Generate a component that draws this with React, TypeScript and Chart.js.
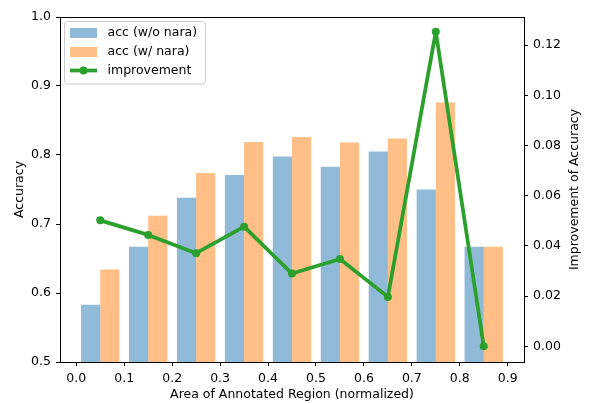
import React, { useEffect, useRef } from "react";
import { Chart, registerables } from "chart.js";

Chart.register(...registerables);

const regionCenters = [0.05, 0.15, 0.25, 0.35, 0.45, 0.55, 0.65, 0.75, 0.85];
const accWithout = [0.583, 0.667, 0.738, 0.771, 0.798, 0.783, 0.805, 0.75, 0.667];
const accWith = [0.634, 0.712, 0.774, 0.819, 0.826, 0.818, 0.824, 0.876, 0.667];
const improvement = [0.0502, 0.0444, 0.0371, 0.0477, 0.029, 0.0348, 0.0197, 0.1254, 0.0];

const xTicks = [0, 0.1, 0.2, 0.3, 0.4, 0.5, 0.6, 0.7, 0.8, 0.9];
const yTicks = [0.5, 0.6, 0.7, 0.8, 0.9, 1.0];
const y1Ticks = [0, 0.02, 0.04, 0.06, 0.08, 0.1, 0.12];

const seriesLabels = ["acc (w/o nara)", "acc (w/ nara)", "improvement"];
const xTitle = "Area of Annotated Region (normalized)";
const yTitle = "Accuracy";
const y1Title = "Improvement of Accuracy";

const BLUE = "rgba(31,119,180,0.5)";
const ORANGE = "rgba(255,127,14,0.5)";
const GREEN = "#2ca02c";
const FONT = "DejaVu Sans";
const FS = 12.5;

export default function App() {
  const ref = useRef<HTMLCanvasElement>(null);

  useEffect(() => {
    if (!ref.current) return;
    const frame = {
      id: "frameAndLegend",
      afterDraw(chart: any) {
        const ctx = chart.ctx;
        const a = chart.chartArea;
        ctx.save();
        // top spine
        ctx.strokeStyle = "#000";
        ctx.lineWidth = 1;
        ctx.beginPath();
        ctx.moveTo(a.left, a.top + 0.5);
        ctx.lineTo(a.right, a.top + 0.5);
        ctx.stroke();

        // right title rotated like matplotlib
        ctx.fillStyle = "#000";
        ctx.font = `${FS}px '${FONT}'`;
        ctx.textAlign = "center";
        ctx.textBaseline = "middle";
        ctx.translate(575, (a.top + a.bottom) / 2);
        ctx.rotate(-Math.PI / 2);
        ctx.fillText(y1Title, 0, 0);
        ctx.restore();

        // legend
        ctx.save();
        const lx = a.left + 4.5;
        const ly = a.top + 4.5;
        ctx.beginPath();
        (ctx as any).roundRect(lx, ly, 141, 62.5, 3);
        ctx.fillStyle = "rgba(255,255,255,0.8)";
        ctx.fill();
        ctx.strokeStyle = "#cccccc";
        ctx.lineWidth = 1;
        ctx.stroke();

        const px = a.left + 10;
        const rows = [a.top + 16, a.top + 35, a.top + 53.5];
        ctx.fillStyle = BLUE;
        ctx.fillRect(px, rows[0] - 5, 27, 10);
        ctx.fillStyle = ORANGE;
        ctx.fillRect(px, rows[1] - 5, 27, 10);
        ctx.strokeStyle = GREEN;
        ctx.lineWidth = 3.75;
        ctx.beginPath();
        ctx.moveTo(px, rows[2]);
        ctx.lineTo(px + 27, rows[2]);
        ctx.stroke();
        ctx.fillStyle = GREEN;
        ctx.beginPath();
        ctx.arc(px + 13.5, rows[2], 4, 0, Math.PI * 2);
        ctx.fill();

        ctx.fillStyle = "#000";
        ctx.font = `${FS}px '${FONT}'`;
        ctx.textAlign = "left";
        ctx.textBaseline = "middle";
        seriesLabels.forEach((t, i) => ctx.fillText(t, a.left + 47.5, rows[i]));
        ctx.restore();
      },
    };

    const chart = new Chart(ref.current, {
      type: "bar",
      data: {
        datasets: [
          {
            type: "line",
            label: seriesLabels[2],
            data: regionCenters.map((x, i) => ({ x, y: improvement[i] })),
            xAxisID: "x",
            yAxisID: "y1",
            borderColor: GREEN,
            backgroundColor: GREEN,
            borderWidth: 3.75,
            borderJoinStyle: "round",
            borderCapStyle: "round",
            pointRadius: 4,
            pointBorderWidth: 0,
            pointBackgroundColor: GREEN,
            tension: 0,
            order: 0,
            clip: false as any,
          } as any,
          {
            type: "bar",
            label: seriesLabels[0],
            data: regionCenters.map((x, i) => ({ x, y: accWithout[i] })),
            backgroundColor: BLUE,
            borderWidth: 0,
            xAxisID: "x",
            yAxisID: "y",
            categoryPercentage: 0.8,
            barPercentage: 1,
            order: 1,
          },
          {
            type: "bar",
            label: seriesLabels[1],
            data: regionCenters.map((x, i) => ({ x, y: accWith[i] })),
            backgroundColor: ORANGE,
            borderWidth: 0,
            xAxisID: "x",
            yAxisID: "y",
            categoryPercentage: 0.8,
            barPercentage: 1,
            order: 1,
          },
        ],
      },
      options: {
        responsive: false,
        animation: false,
        devicePixelRatio: 1,
        layout: { padding: { top: 17, left: 0, right: 0, bottom: 0 } },
        plugins: { legend: { display: false }, tooltip: { enabled: false } },
        scales: {
          x: {
            type: "linear",
            min: -0.034,
            max: 0.934,
            offset: false,
            afterBuildTicks: (s: any) => {
              s.ticks = xTicks.map((v) => ({ value: v }));
            },
            afterFit: (s: any) => {
              s.height = 42;
            },
            ticks: {
              color: "#000",
              font: { family: FONT, size: FS },
              padding: 5,
              maxRotation: 0,
              autoSkip: false,
              callback: (v: any) => Number(v).toFixed(1),
            },
            grid: {
              offset: false,
              drawOnChartArea: false,
              drawTicks: true,
              tickLength: 4,
              color: "#000",
            },
            border: { display: true, color: "#000", width: 1 },
            title: {
              display: true,
              text: xTitle,
              color: "#000",
              font: { family: FONT, size: FS },
              padding: { top: 0, bottom: 2 },
            },
          },
          y: {
            type: "linear",
            position: "left",
            min: 0.5,
            max: 1.0,
            afterBuildTicks: (s: any) => {
              s.ticks = yTicks.map((v) => ({ value: v }));
            },
            afterFit: (s: any) => {
              s.width = 60;
            },
            ticks: {
              color: "#000",
              font: { family: FONT, size: FS },
              padding: 5,
              callback: (v: any) => Number(v).toFixed(1),
            },
            grid: {
              drawOnChartArea: false,
              drawTicks: true,
              tickLength: 4,
              color: "#000",
            },
            border: { display: true, color: "#000", width: 1 },
            title: {
              display: true,
              text: yTitle,
              color: "#000",
              font: { family: FONT, size: FS },
              padding: { top: 12, bottom: 0 },
            },
          },
          y1: {
            type: "linear",
            position: "right",
            min: -0.00625,
            max: 0.13125,
            afterBuildTicks: (s: any) => {
              s.ticks = y1Ticks.map((v) => ({ value: v }));
            },
            afterFit: (s: any) => {
              s.width = 65;
            },
            ticks: {
              color: "#000",
              font: { family: FONT, size: FS },
              padding: 5,
              callback: (v: any) => Number(v).toFixed(2),
            },
            grid: {
              drawOnChartArea: false,
              drawTicks: true,
              tickLength: 4,
              color: "#000",
            },
            border: { display: true, color: "#000", width: 1 },
            title: { display: false },
          },
        },
      },
      plugins: [frame],
    });
    return () => chart.destroy();
  }, []);

  return (
    <div style={{ position: "fixed", left: 0, top: 0, width: 589, height: 404, background: "#fff" }}>
      <canvas ref={ref} width={589} height={404} style={{ display: "block" }} />
    </div>
  );
}
